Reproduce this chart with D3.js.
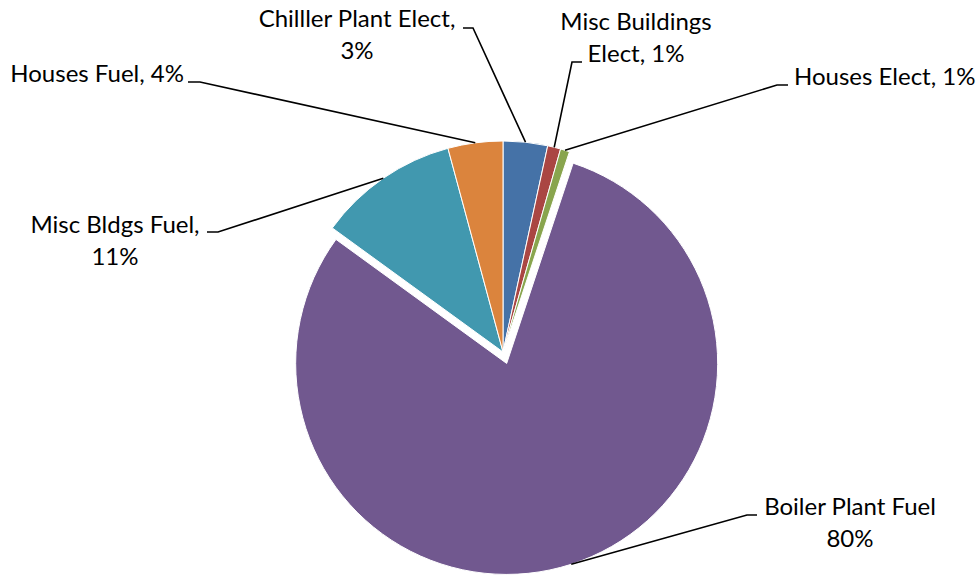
<!DOCTYPE html>
<html>
<head>
<meta charset="utf-8">
<script src="https://cdn.jsdelivr.net/npm/d3@7"></script>
<style>
  html, body { margin: 0; padding: 0; background: #fff; }
  svg { display: block; }
  text { font-family: Lato, "Open Sans", sans-serif; font-size: 24px; fill: #000; }
</style>
</head>
<body>
<svg id="chart" width="980" height="577"></svg>
<script>
// Energy share by source (percent of total)
const categories = ["Chilller Plant Elect", "Misc Buildings Elect", "Houses Elect",
                    "Boiler Plant Fuel", "Misc Bldgs Fuel", "Houses Fuel"];
const values = [3.4, 1.0, 0.7, 79.9, 10.8, 4.2];
const colors = ["#4572A7", "#AA4643", "#89A54E", "#71588F", "#4198AF", "#DB843D"];
const exploded = [false, false, false, true, false, false];

// Label lines: text lines, anchor, position and the elbow of the leader line
const labelLayout = [
  { lines: (n, p) => [n + ",", p], anchor: "middle", x: 357, y: 27, elbow: [[463, 28], [473, 28]] },
  { lines: (n, p) => ["Misc Buildings", "Elect, " + p], anchor: "middle", x: 636, y: 30, elbow: [[582, 62], [572, 62]] },
  { lines: (n, p) => [n + ", " + p], anchor: "start", x: 794, y: 85, elbow: [[788, 85], [777, 85]] },
  { lines: (n, p) => [n, p], anchor: "middle", x: 850, y: 515, elbow: [[757, 515], [747, 515]] },
  { lines: (n, p) => [n + ",", p], anchor: "middle", x: 115, y: 233, elbow: [[207, 232], [218, 232]] },
  { lines: (n, p) => [n + ", " + p], anchor: "end", x: 184, y: 82, elbow: [[188, 82], [200, 82]] }
];
const lineGap = 32;

const svg = d3.select("#chart");
const cx = 503, cy = 352, radius = 211, explodeDist = 12;

const data = categories.map((c, i) => ({ name: c, value: values[i], i }));
const total = d3.sum(values);

const pie = d3.pie().value(d => d.value).sort(null);
const arcs = pie(data);
const arc = d3.arc().innerRadius(0).outerRadius(radius);

function offsetOf(a) {
  if (!exploded[a.data.i]) return [0, 0];
  const mid = (a.startAngle + a.endAngle) / 2;
  return [explodeDist * Math.sin(mid), -explodeDist * Math.cos(mid)];
}

const g = svg.append("g").attr("transform", `translate(${cx},${cy})`);

g.selectAll("path.slice")
  .data(arcs)
  .join("path")
  .attr("class", "slice")
  .attr("transform", a => { const o = offsetOf(a); return `translate(${o[0]},${o[1]})`; })
  .attr("d", arc)
  .attr("fill", a => colors[a.data.i])
  .attr("stroke", "#fff")
  .attr("stroke-width", 1);

const fmt = v => Math.round(v / total * 100) + "%";

// Leader lines: from the label elbow to the slice's outer edge at its mid angle
arcs.forEach(a => {
  const L = labelLayout[a.data.i];
  const o = offsetOf(a);
  const mid = (a.startAngle + a.endAngle) / 2;
  const px = cx + o[0] + radius * Math.sin(mid);
  const py = cy + o[1] - radius * Math.cos(mid);
  const pts = [L.elbow[0], L.elbow[1], [px, py]];
  svg.append("path")
    .attr("d", d3.line()(pts))
    .attr("fill", "none")
    .attr("stroke", "#000")
    .attr("stroke-width", 1.6);

  const t = svg.append("text")
    .attr("text-anchor", L.anchor)
    .attr("x", L.x)
    .attr("y", L.y);
  L.lines(a.data.name, fmt(a.data.value)).forEach((s, k) => {
    t.append("tspan").attr("x", L.x).attr("y", L.y + k * lineGap).text(s);
  });
});
</script>
</body>
</html>
